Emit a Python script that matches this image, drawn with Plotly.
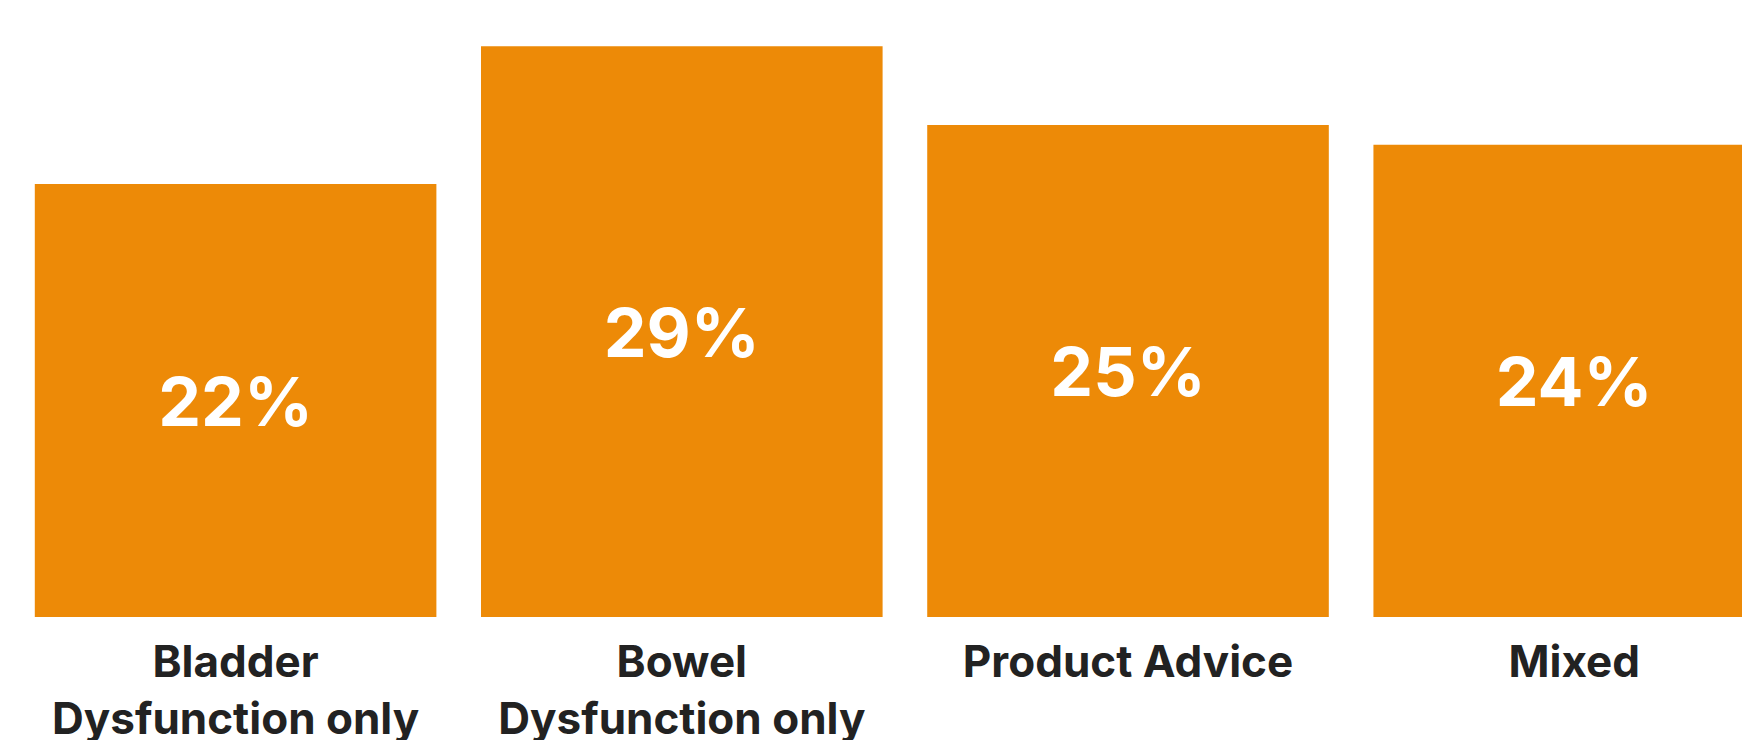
import plotly.graph_objects as go

categories = ["Bladder<br>Dysfunction only", "Bowel<br>Dysfunction only", "Product Advice", "Mixed"]
values = [22, 29, 25, 24]
labels = ["22%", "29%", "25%", "24%"]

fig = go.Figure(go.Bar(
    x=categories,
    y=values,
    text=labels,
    textposition="inside",
    insidetextanchor="middle",
    textangle=0,
    textfont=dict(family="Inter", size=68, color="white", weight=700),
    marker=dict(color="#ED8A07", line=dict(width=0)),
    hoverinfo="skip",
))

fig.update_layout(
    width=1742, height=740,
    margin=dict(l=0, r=0, t=0, b=123),
    paper_bgcolor="white", plot_bgcolor="white",
    bargap=0.1,
    showlegend=False,
)
fig.update_xaxes(
    range=[-0.528, 3.376],
    showgrid=False, zeroline=False, showline=False, ticks="",
    tickfont=dict(family="Inter", size=44, color="#222222", weight=700),
    automargin=False,
    ticklabelstandoff=15,
)
fig.update_yaxes(
    range=[0, 31.35],
    showgrid=False, zeroline=False, showline=False, showticklabels=False, ticks="",
)

fig.write_html(
    "out.html",
    config={"displayModeBar": False},
    post_script="document.body.style.margin='0';document.body.style.overflow='hidden';",
)
